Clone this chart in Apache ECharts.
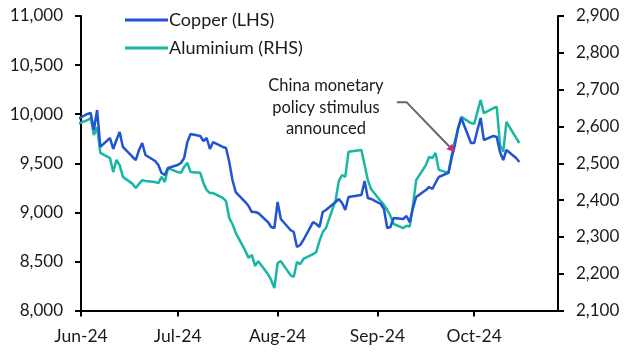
<!DOCTYPE html>
<html>
<head>
<meta charset="utf-8">
<script src="https://cdn.jsdelivr.net/npm/echarts@6/dist/echarts.min.js"></script>
<style>
html,body{margin:0;padding:0;background:#fff;}
#chart{width:630px;height:355px;}
</style>
</head>
<body>
<div id="chart"></div>
<script>
// Business days (daily data)
var dates = [
'2024-05-31','2024-06-03','2024-06-04','2024-06-05','2024-06-06','2024-06-07',
'2024-06-10','2024-06-11','2024-06-12','2024-06-13','2024-06-14',
'2024-06-17','2024-06-18','2024-06-19','2024-06-20','2024-06-21',
'2024-06-24','2024-06-25','2024-06-26','2024-06-27','2024-06-28',
'2024-07-01','2024-07-02','2024-07-03','2024-07-04','2024-07-05',
'2024-07-08','2024-07-09','2024-07-10','2024-07-11','2024-07-12',
'2024-07-15','2024-07-16','2024-07-17','2024-07-18','2024-07-19',
'2024-07-22','2024-07-23','2024-07-24','2024-07-25','2024-07-26',
'2024-07-29','2024-07-30','2024-07-31','2024-08-01','2024-08-02',
'2024-08-05','2024-08-06','2024-08-07','2024-08-08','2024-08-09',
'2024-08-12','2024-08-13','2024-08-14','2024-08-15','2024-08-16',
'2024-08-19','2024-08-20','2024-08-21','2024-08-22','2024-08-23',
'2024-08-27','2024-08-28','2024-08-29','2024-08-30',
'2024-09-02','2024-09-03','2024-09-04','2024-09-05','2024-09-06',
'2024-09-09','2024-09-10','2024-09-11','2024-09-12','2024-09-13',
'2024-09-16','2024-09-17','2024-09-18','2024-09-19','2024-09-20',
'2024-09-23','2024-09-24','2024-09-25','2024-09-26','2024-09-27',
'2024-09-30','2024-10-01','2024-10-02','2024-10-03','2024-10-04',
'2024-10-07','2024-10-08','2024-10-09','2024-10-10','2024-10-11',
'2024-10-14','2024-10-15'
];

// Copper, US$/tonne (LHS)
var copper = [
9951,10002,10012,9839,10042,9666,
9757,9645,9737,9818,9666,
9564,9533,9635,9706,9584,
9523,9482,9401,9380,9452,
9482,9503,9553,9716,9798,
9778,9727,9757,9645,9716,
9666,9655,9513,9329,9207,
9105,9064,9003,9003,8993,
8901,8851,8840,9105,8932,
8820,8800,8647,8667,8718,
8901,8881,8851,9003,9024,
9105,9136,9095,9024,9156,
9177,9319,9146,9136,
9085,9034,8840,8851,8942,
8932,8963,8901,9044,9156,
9227,9258,9238,9299,9360,
9401,9554,9686,9859,9961,
9706,9706,9839,9961,9737,
9778,9767,9615,9533,9635,
9553,9513
];

// Aluminium, US$/tonne (RHS)
var aluminium = [
2607,2617,2623,2577,2598,2528,
2514,2476,2509,2495,2463,
2444,2433,2444,2454,2452,
2449,2446,2463,2449,2487,
2476,2474,2490,2501,2476,
2474,2446,2427,2419,2419,
2406,2397,2351,2335,2311,
2262,2243,2251,2221,2234,
2199,2183,2161,2229,2234,
2196,2191,2232,2226,2240,
2253,2259,2289,2313,2324,
2400,2452,2468,2463,2531,
2536,2495,2454,2430,
2397,2387,2373,2357,2335,
2324,2330,2328,2387,2454,
2495,2517,2514,2528,2482,
2474,2522,2560,2593,2626,
2609,2607,2640,2672,2636,
2650,2653,2550,2531,2612,
2569,2555
];

var monthTicks = ['2024-06-01','2024-07-01','2024-08-01','2024-09-01','2024-10-01'];
var monthNames = ['Jan','Feb','Mar','Apr','May','Jun','Jul','Aug','Sep','Oct','Nov','Dec'];
var xMin = '2024-06-01', xMax = '2024-10-27';

var annoText = ['China monetary', 'policy stimulus', 'announced'];
var annoTarget = ['2024-09-25', 2530];   // point on aluminium line
var annoElbow = ['2024-09-10', 2666];
var annoStart = ['2024-09-07', 2666];
var annoTextCenter = ['2024-08-16', 2652];

function ts(s){ var p = s.split('-'); return Date.UTC(+p[0], +p[1]-1, +p[2]); }

var cuData = dates.map(function(d,i){ return [ts(d), copper[i]]; });
var alData = dates.map(function(d,i){ return [ts(d), aluminium[i]]; });

var FONT = 'Lato';
var TXT = '#1a1a1a';
var BLUE = '#2253D3';
var TEAL = '#18B7A3';

var chart = echarts.init(document.getElementById('chart'), null, {renderer:'canvas'});
var axisLineStyle = {show:true, lineStyle:{color:'#000', width:2}};
var option = {
  animation:false,
  textStyle:{fontFamily:FONT},
  grid:{left:81, right:72, top:16, bottom:44.5, containLabel:false},
  legend:{
    orient:'vertical', left:120, top:6, itemGap:10,
    itemWidth:43, itemHeight:3, icon:'rect',
    textStyle:{fontFamily:FONT, fontSize:18, color:TXT, padding:[0,0,0,-4]},
    data:['Copper (LHS)','Aluminium (RHS)']
  },
  xAxis:{
    type:'value', min:ts(xMin), max:ts(xMax),
    axisLine:axisLineStyle,
    axisTick:{show:true, inside:false, length:6, lineStyle:{color:'#000', width:2}, customValues:monthTicks.map(ts)},
    axisLabel:{fontFamily:FONT, fontSize:17.5, color:TXT, margin:17, customValues:monthTicks.map(ts),
      formatter:function(v){ var d=new Date(v); return monthNames[d.getUTCMonth()]+'-'+String(d.getUTCFullYear()).slice(2); }},
    splitLine:{show:false}
  },
  yAxis:[{
    type:'value', min:8000, max:11000, interval:500, position:'left',
    axisLine:axisLineStyle,
    axisTick:{show:true, inside:false, length:6, lineStyle:{color:'#000', width:2}},
    axisLabel:{fontFamily:FONT, fontSize:17, color:TXT, margin:18,
      formatter:function(v){ return v.toLocaleString('en-US'); }},
    splitLine:{show:false}
  },{
    type:'value', min:2100, max:2900, interval:100, position:'right',
    axisLine:axisLineStyle,
    axisTick:{show:true, inside:false, length:6, lineStyle:{color:'#000', width:2}},
    axisLabel:{fontFamily:FONT, fontSize:17, color:TXT, margin:18,
      formatter:function(v){ return v.toLocaleString('en-US'); }},
    splitLine:{show:false}
  }],
  series:[{
    name:'Copper (LHS)', type:'line', yAxisIndex:0, data:cuData,
    showSymbol:false, lineStyle:{color:BLUE, width:2.5}, itemStyle:{color:BLUE}, z:3
  },{
    name:'Aluminium (RHS)', type:'line', yAxisIndex:1, data:alData,
    showSymbol:false, lineStyle:{color:TEAL, width:2.5}, itemStyle:{color:TEAL}, z:2
  }]
};
chart.setOption(option);

function px(p){ return chart.convertToPixel({xAxisIndex:0, yAxisIndex:1}, [ts(p[0]), p[1]]); }
var pS = px(annoStart), pE = px(annoElbow), pT = px(annoTarget), pC = px(annoTextCenter);
var ang = Math.atan2(pT[1]-pE[1], pT[0]-pE[0]);
var ah = 8, aw = 4;
var tip = pT;
var base = [tip[0]-ah*Math.cos(ang), tip[1]-ah*Math.sin(ang)];
var l1 = [base[0]+aw*Math.sin(ang), base[1]-aw*Math.cos(ang)];
var l2 = [base[0]-aw*Math.sin(ang), base[1]+aw*Math.cos(ang)];
chart.setOption({
  graphic:[
    {type:'polyline', z:10, shape:{points:[pS, pE, base]}, style:{stroke:'#666', lineWidth:2, fill:null}},
    {type:'polygon', z:11, shape:{points:[tip, l1, l2]}, style:{fill:'#D6247C'}},
    {type:'text', z:10, x:pC[0], y:pC[1], style:{text:annoText.join('\n'), fontFamily:FONT, fontSize:16.5, lineHeight:21.5, fill:TXT, align:'center', verticalAlign:'middle'}}
  ]
});
</script>
</body>
</html>
